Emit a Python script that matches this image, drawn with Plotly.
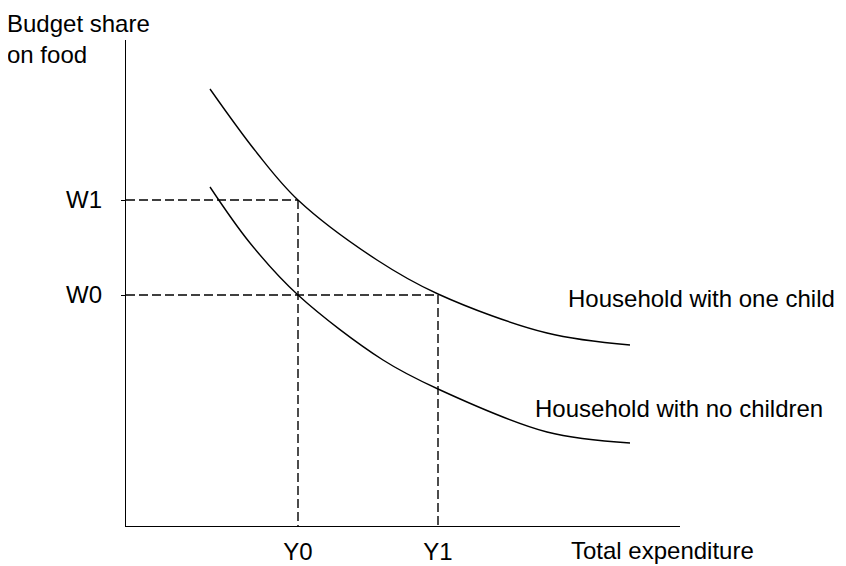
import plotly.graph_objects as go

# --- data (arbitrary units) ---
expenditure_levels = [172, 312]          # Y0, Y1
expenditure_labels = ["Y0", "Y1"]
share_levels = [231, 326]                # W0, W1
share_labels = ["W0", "W1"]

one_child_x = [84, 131, 172, 251, 312, 421, 504]
one_child_y = [437, 373, 326, 266, 232, 193, 181]

no_children_x = [84, 124, 172, 257, 312, 421, 504]
no_children_y = [339, 283, 231, 166, 137, 94, 83]

curve_labels = ["Household with one child", "Household with no children"]
x_title = "Total expenditure"
y_title = "Budget share<br>on food"

FONT = "Liberation Sans, Arial, Helvetica, sans-serif"
FS = 24

fig = go.Figure()

curve_style = dict(color="black", width=1.4)
fig.add_trace(go.Scatter(x=one_child_x, y=one_child_y, mode="lines",
                         line=dict(**curve_style, shape="spline", smoothing=1.0),
                         hoverinfo="skip", showlegend=False))
fig.add_trace(go.Scatter(x=no_children_x, y=no_children_y, mode="lines",
                         line=dict(**curve_style, shape="spline", smoothing=1.0),
                         hoverinfo="skip", showlegend=False))

Y0, Y1 = expenditure_levels
W0, W1 = share_levels
dash = dict(color="black", width=1.4, dash="9px,4px")
# horizontal dashed guides
fig.add_trace(go.Scatter(x=[0, Y0], y=[W1, W1], mode="lines", line=dash,
                         hoverinfo="skip", showlegend=False))
fig.add_trace(go.Scatter(x=[0, Y1], y=[W0, W0], mode="lines", line=dash,
                         hoverinfo="skip", showlegend=False))
# vertical dashed guides
fig.add_trace(go.Scatter(x=[Y0, Y0], y=[W1, 0], mode="lines", line=dash,
                         hoverinfo="skip", showlegend=False))
fig.add_trace(go.Scatter(x=[Y1, Y1], y=[W0, 0], mode="lines", line=dash,
                         hoverinfo="skip", showlegend=False))

# page pixel geometry (the html body adds an 8px offset)
OFF = 8
L, R, T, B = 126, 680, 40, 526
W, H = 846 - OFF, 566 - OFF

fig.update_layout(
    width=W, height=H,
    margin=dict(l=L - OFF, r=W - (R - OFF), t=T - OFF, b=H - (B - OFF),
                pad=0, autoexpand=False),
    paper_bgcolor="white", plot_bgcolor="white",
    font=dict(family=FONT, size=FS, color="black"),
    showlegend=False,
)
fig.update_xaxes(range=[0, R - L], showgrid=False, zeroline=False,
                 showline=True, linecolor="black", linewidth=1.4,
                 tickvals=expenditure_levels, ticktext=expenditure_labels,
                 ticks="", ticklabelstandoff=4, automargin=False,
                 tickfont=dict(family=FONT, size=FS, color="black"))
fig.update_yaxes(range=[0, B - T], showgrid=False, zeroline=False,
                 showline=True, linecolor="black", linewidth=1.4,
                 tickvals=share_levels, ticktext=share_labels,
                 ticks="outside", ticklen=4, tickcolor="black", tickwidth=1,
                 ticklabelstandoff=14, automargin=False,
                 tickfont=dict(family=FONT, size=FS, color="black"))

def px_x(p):
    return (p - L) / (R - L)

def px_y(p):
    return (B - p) / (B - T)

fig.add_annotation(text=curve_labels[0], xref="paper", yref="paper",
                   x=px_x(566), y=px_y(298), xanchor="left", yanchor="middle",
                   showarrow=False, font=dict(family=FONT, size=FS, color="black"))
fig.add_annotation(text=curve_labels[1], xref="paper", yref="paper",
                   x=px_x(533), y=px_y(408), xanchor="left", yanchor="middle",
                   showarrow=False, font=dict(family=FONT, size=FS, color="black"))
fig.add_annotation(text=x_title, xref="paper", yref="paper",
                   x=px_x(569), y=px_y(550), xanchor="left", yanchor="middle",
                   showarrow=False, font=dict(family=FONT, size=FS, color="black"))
fig.add_annotation(text=y_title, xref="paper", yref="paper",
                   x=px_x(5), y=px_y(8), xanchor="left", yanchor="top",
                   align="left", showarrow=False,
                   font=dict(family=FONT, size=FS, color="black"))

fig.write_html("out.html")
